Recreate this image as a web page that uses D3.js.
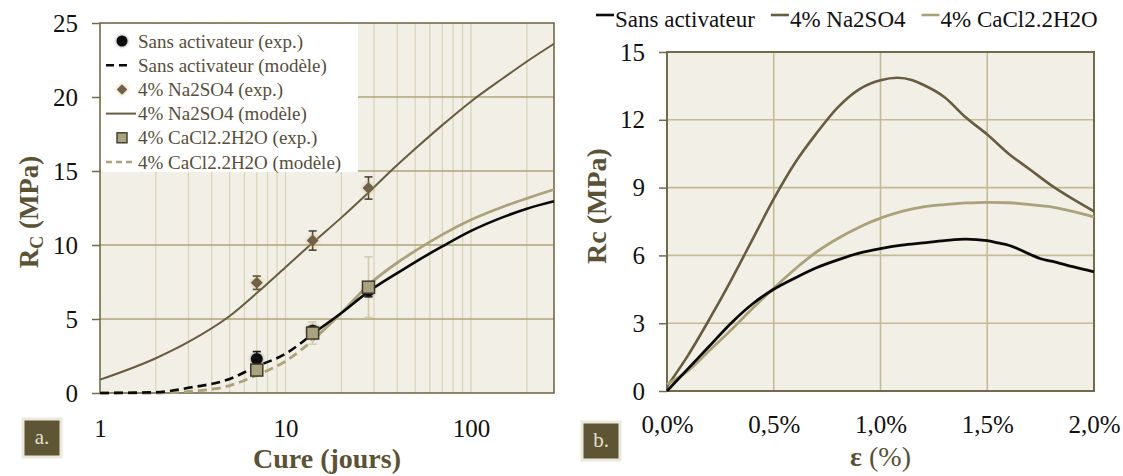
<!DOCTYPE html>
<html>
<head>
<meta charset="utf-8">
<script src="https://cdn.jsdelivr.net/npm/d3@7"></script>
<style>
body { margin: 0; background: #fff; }
svg, svg text { font-family: "Liberation Serif", "DejaVu Serif", serif; }
</style>
</head>
<body>
<script>
// --- data, chart a. (strength vs curing time) ---
var cureDays = [7, 14, 28];
var sansExp = [2.3, 4.2, 6.9];
var sansErr = [0.5, 0.3, 0.4];
var naExp = [7.45, 10.3, 13.85];
var naErr = [0.45, 0.65, 0.75];
var caExp = [1.55, 4.05, 7.15];
var caErr = [0.2, 0.75, 2.05];

var modelDays = [1, 2, 3, 5, 7, 10, 14, 20, 28, 40, 50, 70, 100, 150, 200, 280];
var sansModel = [0, 0.05, 0.35, 0.95, 1.8, 2.65, 4.0, 5.4, 6.85, 8.1, 8.85, 9.9, 10.95, 11.9, 12.45, 12.95];
var naModel = [0.9, 2.35, 3.45, 5.2, 6.75, 8.5, 10.15, 11.85, 13.55, 15.4, 16.5, 18.1, 19.7, 21.3, 22.4, 23.6];
var caModel = [0, 0, 0.1, 0.5, 1.2, 2.15, 3.55, 5.4, 7.3, 8.8, 9.6, 10.7, 11.7, 12.6, 13.15, 13.75];

var yTicksA = [0, 5, 10, 15, 20, 25];
var xTicksA = [1, 10, 100];
var legendA = ["Sans activateur (exp.)", "Sans activateur (modèle)", "4% Na2SO4 (exp.)",
               "4% Na2SO4 (modèle)", "4% CaCl2.2H2O (exp.)", "4% CaCl2.2H2O (modèle)"];

// --- data, chart b. (stress-strain) ---
var strainSans = [0, 0.1, 0.2, 0.3, 0.4, 0.5, 0.6, 0.7, 0.8, 0.9, 1.0, 1.1, 1.2, 1.3, 1.4, 1.5, 1.55, 1.6, 1.7, 1.75, 1.8, 1.9, 2.0];
var stressSans = [0, 1.0, 2.0, 3.0, 3.85, 4.5, 5.0, 5.45, 5.8, 6.1, 6.3, 6.45, 6.55, 6.65, 6.72, 6.65, 6.55, 6.45, 6.05, 5.85, 5.75, 5.5, 5.27];
var strainNa = [0, 0.1, 0.2, 0.3, 0.4, 0.5, 0.6, 0.7, 0.8, 0.9, 1.0, 1.08, 1.15, 1.2, 1.3, 1.4, 1.5, 1.6, 1.7, 1.8, 1.9, 2.0];
var stressNa = [0.2, 1.6, 3.2, 4.9, 6.7, 8.5, 10.1, 11.4, 12.55, 13.35, 13.75, 13.86, 13.75, 13.55, 13.0, 12.1, 11.35, 10.5, 9.8, 9.1, 8.5, 7.95];
var strainCa = [0, 0.1, 0.2, 0.3, 0.4, 0.5, 0.6, 0.7, 0.8, 0.9, 1.0, 1.1, 1.2, 1.3, 1.4, 1.5, 1.6, 1.7, 1.8, 1.9, 2.0];
var stressCa = [0.3, 0.9, 1.8, 2.7, 3.65, 4.55, 5.4, 6.15, 6.75, 7.25, 7.65, 7.95, 8.15, 8.25, 8.32, 8.35, 8.33, 8.25, 8.15, 7.95, 7.7];

var yTicksB = [0, 3, 6, 9, 12, 15];
var xTicksB = [0, 0.5, 1, 1.5, 2];
var legendB = ["Sans activateur", "4% Na2SO4", "4% CaCl2.2H2O"];

// colours
var cSans = "#0a0a0a", cNa = "#675c3d", cCa = "#aba27a";
var olive = "#5b5236", border = "#746a4b", plotBg = "#f2efe7";
var serif = "'Liberation Serif', 'DejaVu Serif', serif";
var dashedUntil = 14;   // model curves look dashed only at early ages

var width = 1123, height = 476;
var svg = d3.select("body").append("svg")
    .attr("width", width)
    .attr("height", height)
    .style("font-family", serif);

var defs = svg.append("defs");
defs.append("filter").attr("id", "glow")
    .attr("x", "-60%").attr("y", "-60%").attr("width", "220%").attr("height", "220%")
  .append("feDropShadow")
    .attr("dx", 0).attr("dy", 0).attr("stdDeviation", 2)
    .attr("flood-color", "#c9b574").attr("flood-opacity", 0.9);
defs.append("filter").attr("id", "glowDark")
    .attr("x", "-60%").attr("y", "-60%").attr("width", "220%").attr("height", "220%")
  .append("feDropShadow")
    .attr("dx", 0).attr("dy", 0).attr("stdDeviation", 1.6)
    .attr("flood-color", "#555").attr("flood-opacity", 0.8);

// ================= chart a. =================
var xA = d3.scaleLog().domain([1, 280]).range([100, 554]);
var yA = d3.scaleLinear().domain([0, 25]).range([393, 23]);

var gA = svg.append("g");
gA.append("rect")
    .attr("x", xA.range()[0]).attr("y", yA(25))
    .attr("width", xA.range()[1] - xA.range()[0])
    .attr("height", yA(0) - yA(25))
    .attr("fill", plotBg);

// vertical (log) grid
gA.selectAll(".vgrid").data(xA.ticks().filter(function (d) { return d > 1; }))
  .enter().append("line")
    .attr("x1", function (d) { return xA(d); })
    .attr("x2", function (d) { return xA(d); })
    .attr("y1", yA(0)).attr("y2", yA(25))
    .attr("stroke", "#dad3b6").attr("stroke-width", 1.2);

gA.selectAll(".hgrid").data(yTicksA.slice(1, -1))
  .enter().append("line")
    .attr("x1", xA.range()[0]).attr("x2", xA.range()[1])
    .attr("y1", function (d) { return yA(d); })
    .attr("y2", function (d) { return yA(d); })
    .attr("stroke", "#aca379").attr("stroke-width", 1.3);

// y axis
var yAxisA = gA.append("g")
    .attr("transform", "translate(" + xA.range()[0] + ",0)")
    .call(d3.axisLeft(yA).tickValues(yTicksA).tickSize(8).tickPadding(14));
yAxisA.select(".domain").remove();
yAxisA.attr("font-family", null);
yAxisA.selectAll("line").attr("stroke", border).attr("stroke-width", 1.5);
yAxisA.selectAll("text")
    .attr("font-size", 25).attr("fill", "#111")
    .style("font-family", serif);

// x axis labels
var xAxisA = gA.append("g")
    .attr("transform", "translate(0," + yA(0) + ")")
    .call(d3.axisBottom(xA).tickValues(xTicksA).tickFormat(d3.format("d")).tickSize(0).tickPadding(26));
xAxisA.select(".domain").remove();
xAxisA.attr("font-family", null);
xAxisA.selectAll("text")
    .attr("font-size", 25).attr("fill", "#111")
    .style("font-family", serif);

// plot border
gA.append("rect")
    .attr("x", xA.range()[0]).attr("y", yA(25))
    .attr("width", xA.range()[1] - xA.range()[0])
    .attr("height", yA(0) - yA(25))
    .attr("fill", "none").attr("stroke", border).attr("stroke-width", 1.6);

// model curves
function modelPts(vals) {
    return modelDays.map(function (d, i) { return [d, vals[i]]; });
}
var lineA = d3.line()
    .x(function (d) { return xA(d[0]); })
    .y(function (d) { return yA(d[1]); })
    .curve(d3.curveMonotoneX);

function drawModel(vals, color, w, dashed) {
    var pts = modelPts(vals);
    if (dashed) {
        gA.append("path")
            .attr("d", lineA(pts.filter(function (p) { return p[0] <= dashedUntil; })))
            .attr("fill", "none").attr("stroke", color).attr("stroke-width", w)
            .attr("stroke-dasharray", "9,5");
        gA.append("path")
            .attr("d", lineA(pts.filter(function (p) { return p[0] >= dashedUntil; })))
            .attr("fill", "none").attr("stroke", color).attr("stroke-width", w);
    } else {
        gA.append("path")
            .attr("d", lineA(pts))
            .attr("fill", "none").attr("stroke", color).attr("stroke-width", w);
    }
}
drawModel(naModel, cNa, 2, false);
drawModel(caModel, cCa, 2.8, true);
drawModel(sansModel, cSans, 2.6, true);

// error bars
function errorBars(vals, errs, color) {
    var g = gA.append("g");
    cureDays.forEach(function (d, i) {
        var x = xA(d);
        var y1 = yA(vals[i] - errs[i]), y2 = yA(vals[i] + errs[i]);
        g.append("line").attr("x1", x).attr("x2", x).attr("y1", y1).attr("y2", y2)
            .attr("stroke", color).attr("stroke-width", 1.6);
        [y1, y2].forEach(function (y) {
            g.append("line").attr("x1", x - 4).attr("x2", x + 4).attr("y1", y).attr("y2", y)
                .attr("stroke", color).attr("stroke-width", 1.6);
        });
    });
}
errorBars(caExp, caErr, "#d3ccac");
errorBars(naExp, naErr, "#4e4530");
errorBars(sansExp, sansErr, "#111");

// markers
gA.selectAll(".na").data(naExp).enter().append("path")
    .attr("d", d3.symbol().type(d3.symbolDiamond2).size(90))
    .attr("transform", function (d, i) { return "translate(" + xA(cureDays[i]) + "," + yA(d) + ")"; })
    .attr("fill", "#6f6148").attr("filter", "url(#glow)");

gA.selectAll(".sans").data(sansExp).enter().append("circle")
    .attr("cx", function (d, i) { return xA(cureDays[i]); })
    .attr("cy", function (d) { return yA(d); })
    .attr("r", 6).attr("fill", "#111").attr("filter", "url(#glowDark)");

gA.selectAll(".ca").data(caExp).enter().append("rect")
    .attr("x", function (d, i) { return xA(cureDays[i]) - 6; })
    .attr("y", function (d) { return yA(d) - 6; })
    .attr("width", 12).attr("height", 12)
    .attr("fill", "#aaa380").attr("stroke", "#3f3a2b").attr("stroke-width", 1.5);

// legend a.
var legA = gA.append("g");
legA.append("rect").attr("x", 101).attr("y", 24).attr("width", 257).attr("height", 148).attr("fill", "#fff");
var legY = d3.scalePoint().domain(legendA).range([41, 162]);
legA.selectAll("text").data(legendA).enter().append("text")
    .attr("x", 138).attr("y", function (d) { return legY(d); })
    .attr("dy", "0.35em")
    .attr("font-size", 19).attr("fill", "#564e3a")
    .style("font-family", serif)
    .text(function (d) { return d; });
legA.append("circle").attr("cx", 122).attr("cy", legY(legendA[0])).attr("r", 5.5).attr("fill", "#111").attr("filter", "url(#glowDark)");
legA.append("line").attr("x1", 106).attr("x2", 131).attr("y1", legY(legendA[1])).attr("y2", legY(legendA[1]))
    .attr("stroke", cSans).attr("stroke-width", 2.5).attr("stroke-dasharray", "8,5");
legA.append("path").attr("d", d3.symbol().type(d3.symbolDiamond2).size(70))
    .attr("transform", "translate(122," + legY(legendA[2]) + ")").attr("fill", "#6f6148").attr("filter", "url(#glow)");
legA.append("line").attr("x1", 106).attr("x2", 136).attr("y1", legY(legendA[3])).attr("y2", legY(legendA[3]))
    .attr("stroke", cNa).attr("stroke-width", 2);
legA.append("rect").attr("x", 117).attr("y", legY(legendA[4]) - 5).attr("width", 10).attr("height", 10)
    .attr("fill", "#aaa380").attr("stroke", "#3f3a2b").attr("stroke-width", 1.4);
legA.append("line").attr("x1", 106).attr("x2", 133).attr("y1", legY(legendA[5])).attr("y2", legY(legendA[5]))
    .attr("stroke", cCa).attr("stroke-width", 2.5).attr("stroke-dasharray", "6,4");

// axis titles a.
svg.append("text")
    .attr("x", (xA.range()[0] + xA.range()[1]) / 2).attr("y", 468)
    .attr("text-anchor", "middle").attr("font-size", 28).attr("font-weight", "bold")
    .attr("fill", olive).text("Cure (jours)");

var ytA = svg.append("text")
    .attr("transform", "translate(38,212) rotate(-90)")
    .attr("text-anchor", "middle").attr("font-size", 27).attr("font-weight", "bold")
    .attr("fill", olive);
ytA.append("tspan").text("R");
ytA.append("tspan").attr("font-size", 18).attr("dy", 5).text("C");
ytA.append("tspan").attr("dy", -5).text(" (MPa)");

// ================= chart b. =================
var xB = d3.scaleLinear().domain([0, 2]).range([667, 1094]);
var yB = d3.scaleLinear().domain([0, 15]).range([391, 52]);
var gB = svg.append("g");

gB.append("rect")
    .attr("x", xB(0)).attr("y", yB(15))
    .attr("width", xB(2) - xB(0)).attr("height", yB(0) - yB(15))
    .attr("fill", plotBg);

gB.selectAll(".vg").data(xTicksB.slice(1, -1)).enter().append("line")
    .attr("x1", function (d) { return xB(d); }).attr("x2", function (d) { return xB(d); })
    .attr("y1", yB(0)).attr("y2", yB(15))
    .attr("stroke", "#c4bb96").attr("stroke-width", 1.6);
gB.selectAll(".hg").data(yTicksB.slice(1, -1)).enter().append("line")
    .attr("x1", xB(0)).attr("x2", xB(2))
    .attr("y1", function (d) { return yB(d); }).attr("y2", function (d) { return yB(d); })
    .attr("stroke", "#c4bb96").attr("stroke-width", 1.6);

var yAxisB = gB.append("g")
    .attr("transform", "translate(" + xB(0) + ",0)")
    .call(d3.axisLeft(yB).tickValues(yTicksB).tickSize(8).tickPadding(14));
yAxisB.select(".domain").remove();
yAxisB.attr("font-family", null);
yAxisB.selectAll("line").attr("stroke", border).attr("stroke-width", 1.5);
yAxisB.selectAll("text").attr("font-size", 25).attr("fill", "#111")
    .style("font-family", serif);

var pct = function (d) { return d3.format(".1f")(d).replace(".", ",") + "%"; };
var xAxisB = gB.append("g")
    .attr("transform", "translate(0," + yB(0) + ")")
    .call(d3.axisBottom(xB).tickValues(xTicksB).tickFormat(pct).tickSize(0).tickPadding(24));
xAxisB.select(".domain").remove();
xAxisB.attr("font-family", null);
xAxisB.selectAll("text").attr("font-size", 25).attr("fill", "#111")
    .style("font-family", serif);

gB.append("rect")
    .attr("x", xB(0)).attr("y", yB(15))
    .attr("width", xB(2) - xB(0)).attr("height", yB(0) - yB(15))
    .attr("fill", "none").attr("stroke", border).attr("stroke-width", 2);

var lineB = d3.line()
    .x(function (d) { return xB(d[0]); })
    .y(function (d) { return yB(d[1]); })
    .curve(d3.curveMonotoneX);
function pairs(xs, ys) { return xs.map(function (x, i) { return [x, ys[i]]; }); }

gB.append("path").attr("d", lineB(pairs(strainNa, stressNa)))
    .attr("fill", "none").attr("stroke", cNa).attr("stroke-width", 2.6);
gB.append("path").attr("d", lineB(pairs(strainCa, stressCa)))
    .attr("fill", "none").attr("stroke", cCa).attr("stroke-width", 2.8);
gB.append("path").attr("d", lineB(pairs(strainSans, stressSans)))
    .attr("fill", "none").attr("stroke", cSans).attr("stroke-width", 2.8);

// legend b.
var legB = svg.append("g");
var lx = 596, colorsB = [cSans, cNa, cCa];
legendB.forEach(function (name, i) {
    legB.append("line").attr("x1", lx).attr("x2", lx + 18).attr("y1", 15).attr("y2", 15)
        .attr("stroke", colorsB[i]).attr("stroke-width", 2.6);
    var t = legB.append("text").attr("x", lx + 19).attr("y", 27)
        .attr("font-size", 23).attr("fill", "#111")
        .style("font-family", serif).text(name);
    lx += 19 + t.node().getComputedTextLength() + 16;
});

// axis titles b.
var xtB = svg.append("text")
    .attr("x", (xB(0) + xB(2)) / 2).attr("y", 466)
    .attr("text-anchor", "middle").attr("font-size", 28).attr("fill", olive);
xtB.append("tspan").attr("font-weight", "bold").text("ε");
xtB.append("tspan").text(" (%)");

svg.append("text")
    .attr("transform", "translate(606,206) rotate(-90)")
    .attr("text-anchor", "middle").attr("font-size", 28).attr("font-weight", "bold")
    .attr("fill", olive).text("Rc (MPa)");

// panel tags
function tag(x, y, label) {
    svg.append("rect").attr("x", x).attr("y", y).attr("width", 38).attr("height", 38)
        .attr("fill", "#5e5535").attr("stroke", "#ebe8dc").attr("stroke-width", 3);
    svg.append("text").attr("x", x + 19).attr("y", y + 25)
        .attr("text-anchor", "middle").attr("font-size", 21).attr("fill", "#e4e0cd").text(label);
}
tag(23, 419, "a.");
tag(582, 422, "b.");
</script>
</body>
</html>
